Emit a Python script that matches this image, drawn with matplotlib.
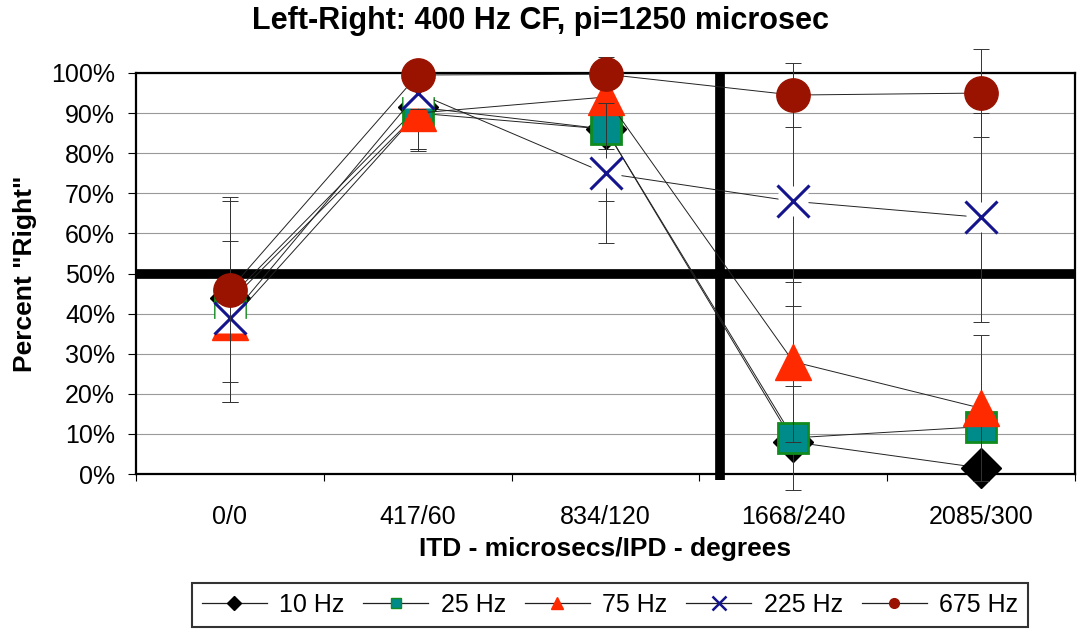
import matplotlib
matplotlib.use("Agg")
import matplotlib.pyplot as plt
from matplotlib.lines import Line2D
from matplotlib.ticker import FixedLocator, PercentFormatter

plt.rcParams['font.family'] = ['Liberation Sans', 'DejaVu Sans']

# data (fraction "right")
categories = ["0/0", "417/60", "834/120", "1668/240", "2085/300"]
labels = ["10 Hz", "25 Hz", "75 Hz", "225 Hz", "675 Hz"]

hz10 = [0.44, 0.915, 0.86, 0.08, 0.015]
hz25 = [0.43, 0.90, 0.86, 0.09, 0.118]
hz75 = [0.38, 0.90, 0.94, 0.28, 0.164]
hz225 = [0.39, 0.95, 0.75, 0.68, 0.64]
hz675 = [0.46, 0.995, 0.997, 0.945, 0.95]

err10 = [0.02, 0.105, 0.05, 0.0, 0.0]
err25 = [0.25, 0.09, 0.18, 0.13, 0.03]
err75 = [0.20, 0.095, 0.03, 0.20, 0.182]
err225 = [0.03, 0.04, 0.175, 0.26, 0.26]
err675 = [0.23, 0.02, 0.02, 0.08, 0.11]

series = [hz10, hz25, hz75, hz225, hz675]
errors = [err10, err25, err75, err225, err675]

styles = [
    dict(marker='D', ms=20, mfc='black', mec='black', mew=1),
    dict(marker='s', ms=22, mfc='#008B8B', mec='#118A1E', mew=2),
    dict(marker='^', ms=26, mfc='#FF2A00', mec='#FF2A00', mew=1),
    dict(marker='x', ms=23, mfc='none', mec='#14148C', mew=2.2),
    dict(marker='o', ms=24, mfc='#9A1200', mec='#9A1200', mew=1),
]
legend_ms = [7, 7, 8, 10, 7]

fig = plt.figure(figsize=(10.78, 6.29), dpi=100)
ax = fig.add_axes([136 / 1078, 1 - 474 / 629, 939 / 1078, 401 / 629])

x = list(range(len(categories)))
for i, (vals, errs, st) in enumerate(zip(series, errors, styles)):
    z = 3 + i
    ax.errorbar(x, vals, yerr=errs, fmt='none', ecolor='#333333',
                elinewidth=0.7, capsize=6, capthick=0.7, zorder=z, clip_on=False)
    ax.plot(x, vals, color='#222222', lw=0.7, zorder=z, clip_on=False)
    if st['marker'] == 'x':
        # Excel draws the X marker on a white box
        ax.plot(x, vals, ls='none', marker='s', ms=st['ms'] - 1, mfc='white',
                mec='none', zorder=z + 0.1, clip_on=False)
    ax.plot(x, vals, ls='none', zorder=z + 0.2, clip_on=False, **st)

# reference lines
ax.axhline(0.5, color='black', lw=7, zorder=2)
ax.plot([2.61, 2.61], [-0.015, 1.0], color='black', lw=7, zorder=2,
        clip_on=False, solid_capstyle='butt')

ax.set_xlim(-0.5, 4.5)
ax.set_ylim(0, 1)
ax.yaxis.set_major_locator(FixedLocator([i / 10 for i in range(11)]))
ax.yaxis.set_major_formatter(PercentFormatter(1.0, decimals=0))
ax.grid(axis='y', color='#999999', lw=0.8, zorder=1)

ax.set_xticks(x)
ax.set_xticklabels(categories)
ax.xaxis.set_minor_locator(FixedLocator([i + 0.5 for i in range(-1, 5)]))
ax.tick_params(axis='x', which='major', length=0, pad=22, labelsize=18)
ax.tick_params(axis='x', which='minor', length=5, direction='out', width=0.8)
ax.tick_params(axis='y', length=6, width=0.8, pad=9, labelsize=18)

for sp in ax.spines.values():
    sp.set_linewidth(1.6)

fig.text(541 / 1078, 1 - 6 / 629, "Left-Right: 400 Hz CF, pi=1250 microsec",
         fontsize=22, fontweight='bold', ha='center', va='top')
ax.set_xlabel("ITD - microsecs/IPD - degrees", fontsize=19,
              fontweight='bold', labelpad=6)
ax.set_ylabel('Percent "Right"', fontsize=19, fontweight='bold', labelpad=10)

leg_handles = []
for st, ms in zip(styles, legend_ms):
    h = Line2D([], [], color='#222222', lw=0.9,
               **{**st, 'ms': ms, 'mew': 1.8 if st['marker'] == 'x' else 1.0})
    leg_handles.append(h)
leg = fig.legend(leg_handles, labels, loc='lower center', ncol=5,
                 bbox_to_anchor=(610 / 1078, 2 / 629), fontsize=18, frameon=True,
                 fancybox=False, edgecolor='black', handlelength=2.6,
                 handletextpad=0.5, columnspacing=0.75, borderpad=0.4,
                 borderaxespad=0)
leg.get_frame().set_linewidth(1.5)

fig.savefig("out.png", dpi=100)
